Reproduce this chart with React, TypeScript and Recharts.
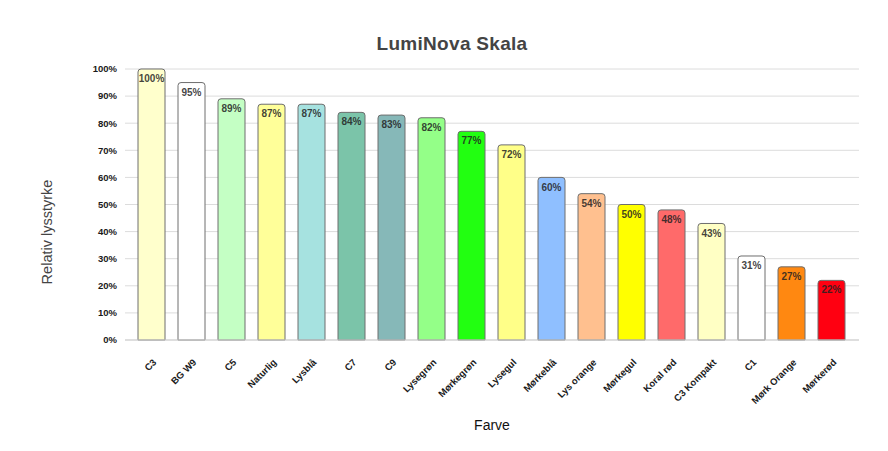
import { BarChart, Bar, XAxis, YAxis, CartesianGrid, Cell, LabelList } from 'recharts';

const farver = [
  'C3', 'BG W9', 'C5', 'Naturlig', 'Lysblå', 'C7', 'C9', 'Lysegrøn', 'Mørkegrøn',
  'Lysegul', 'Mørkeblå', 'Lys orange', 'Mørkegul', 'Koral rød', 'C3 Kompakt', 'C1',
  'Mørk Orange', 'Mørkerød',
];
const lysstyrke = [100, 95, 89, 87, 87, 84, 83, 82, 77, 72, 60, 54, 50, 48, 43, 31, 27, 22];
const barColors = [
  '#ffffcc', '#ffffff', '#c4ffc4', '#ffff99', '#a6e2e0', '#7bc4a9', '#86b8b8', '#94ff88', '#22ff11',
  '#ffff88', '#8fbfff', '#ffc08f', '#ffff00', '#ff6a6a', '#ffffc4', '#ffffff', '#ff8811', '#ff0011',
];
const yTicks = [0, 10, 20, 30, 40, 50, 60, 70, 80, 90, 100];

const data = farver.map((name, i) => ({ name, value: lysstyrke[i] }));

const font = 'Arial, "Liberation Sans", sans-serif';

const AngledTick = ({ x, y, payload }: any) => (
  <g transform={`translate(${x + 6},${y + 15}) rotate(-45)`}>
    <text textAnchor="end" fontSize={9.5} fontWeight="bold" fill="#1a1a1a" fontFamily={font}>
      {payload.value}
    </text>
  </g>
);

export default function App() {
  return (
    <div style={{ position: 'absolute', left: 0, top: 0, width: 888, height: 451, background: '#fff', fontFamily: font }}>
      <BarChart
        width={888}
        height={451}
        data={data}
        margin={{ top: 69, right: 29, bottom: 0, left: 0 }}
        barSize={27}
      >
        <CartesianGrid vertical={false} stroke="#dcdcdc" />
        <XAxis
          dataKey="name"
          interval={0}
          height={111}
          padding={{ left: 6, right: 8 }}
          tick={<AngledTick />}
          tickLine={false}
          axisLine={{ stroke: '#cfcfcf' }}
        />
        <YAxis
          width={125}
          domain={[0, 100]}
          ticks={yTicks}
          tickFormatter={(v) => `${v}%`}
          tick={{ fontSize: 9.5, fontWeight: 'bold', fill: '#1a1a1a', fontFamily: font }}
          tickLine={false}
          axisLine={false}
        />
        <Bar dataKey="value" stroke="#6e6e6e" strokeWidth={1} radius={[3, 3, 0, 0]} isAnimationActive={false}>
          {data.map((d, i) => (
            <Cell key={d.name} fill={barColors[i]} />
          ))}
          <LabelList
            dataKey="value"
            position="insideTop"
            offset={6}
            formatter={(v: any) => `${v}%`}
            style={{ fontSize: 10, fontWeight: 'bold', fill: '#222', fillOpacity: 0.85, fontFamily: font }}
          />
        </Bar>
      </BarChart>
      <div style={{ position: 'absolute', left: 0, width: 904, top: 33, textAlign: 'center', fontSize: 19, fontWeight: 'bold', color: '#444', letterSpacing: 0.3 }}>
        LumiNova Skala
      </div>
      <div style={{ position: 'absolute', left: 125, width: 734, top: 417, textAlign: 'center', fontSize: 14, color: '#111' }}>
        Farve
      </div>
      <div
        style={{
          position: 'absolute',
          left: 47,
          top: 232,
          transform: 'translate(-50%, -50%) rotate(-90deg)',
          whiteSpace: 'nowrap',
          fontSize: 14.5,
          color: '#444',
        }}
      >
        Relativ lysstyrke
      </div>
    </div>
  );
}
